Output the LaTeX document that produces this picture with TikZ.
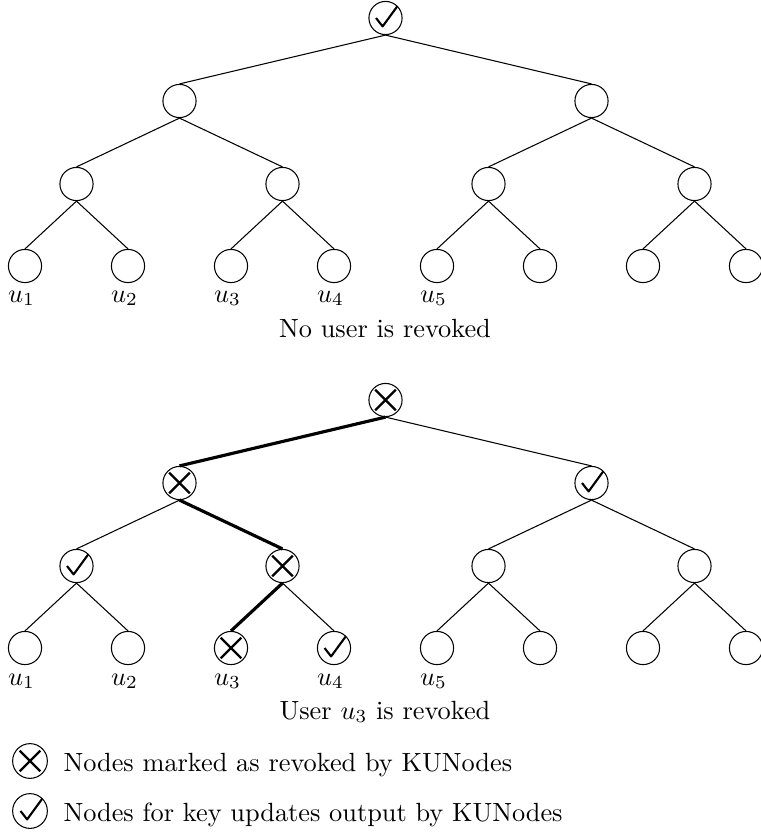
\documentclass[tikz,border=0pt]{standalone}
\begin{document}
\begin{tikzpicture}[x=0.38pt,y=-0.38pt,
  tn/.style={circle, draw, line width=0.4pt, minimum size=12.6pt, inner sep=0pt},
  xmark/.style={tn, path picture={\draw[line width=0.9pt, shift={(path picture bounding box.center)}]
      (-3.9pt,-3.9pt) -- (3.9pt,3.9pt) (-3.9pt,3.9pt) -- (3.9pt,-3.9pt);}},
  cmark/.style={tn, path picture={\draw[line width=0.8pt, line join=round, shift={(path picture bounding box.center)}]
      (-3.6pt,0pt) -- (-1.1pt,-3.2pt) -- (4.6pt,4.6pt);}},
  legicon/.style={minimum size=13.2pt},
  treeedge/.style={line width=0.4pt},
  revedge/.style={line width=1.2pt},
  ulab/.style={anchor=base, inner sep=0pt},
  captext/.style={anchor=base, inner sep=0pt},
  legtext/.style={anchor=base west, inner sep=0pt}]
\useasboundingbox (0,0) rectangle (761,833);

% ---------- top tree ----------
\node[cmark] (tA) at (385.5,18) {};
\node[tn] (tB1) at (179.5,101) {};
\node[tn] (tB2) at (591.5,101) {};
\node[tn] (tC1) at (76.5,184) {};
\node[tn] (tC2) at (282.5,184) {};
\node[tn] (tC3) at (488.5,184) {};
\node[tn] (tC4) at (694.5,184) {};
\node[tn] (tD1) at (25,266) {};
\node[tn] (tD2) at (128,266) {};
\node[tn] (tD3) at (231,266) {};
\node[tn] (tD4) at (334,266) {};
\node[tn] (tD5) at (437,266) {};
\node[tn] (tD6) at (540,266) {};
\node[tn] (tD7) at (643,266) {};
\node[tn] (tD8) at (746,266) {};

\draw[treeedge] (tA.south) -- (tB1.north);
\draw[treeedge] (tA.south) -- (tB2.north);
\draw[treeedge] (tB1.south) -- (tC1.north);
\draw[treeedge] (tB1.south) -- (tC2.north);
\draw[treeedge] (tB2.south) -- (tC3.north);
\draw[treeedge] (tB2.south) -- (tC4.north);
\draw[treeedge] (tC1.south) -- (tD1.north);
\draw[treeedge] (tC1.south) -- (tD2.north);
\draw[treeedge] (tC2.south) -- (tD3.north);
\draw[treeedge] (tC2.south) -- (tD4.north);
\draw[treeedge] (tC3.south) -- (tD5.north);
\draw[treeedge] (tC3.south) -- (tD6.north);
\draw[treeedge] (tC4.south) -- (tD7.north);
\draw[treeedge] (tC4.south) -- (tD8.north);

\node[ulab] (tu1) at (21.5,302) {$u_1$};
\node[ulab] (tu2) at (124.5,302) {$u_2$};
\node[ulab] (tu3) at (227.5,302) {$u_3$};
\node[ulab] (tu4) at (330.5,302) {$u_4$};
\node[ulab] (tu5) at (433.5,302) {$u_5$};
\node[captext] (tcap) at (385,337) {No user is revoked};

% ---------- bottom tree ----------
\node[xmark] (bA) at (385.5,400) {};
\node[xmark] (bB1) at (179.5,483) {};
\node[cmark] (bB2) at (591.5,483) {};
\node[cmark] (bC1) at (76.5,566) {};
\node[xmark] (bC2) at (282.5,566) {};
\node[tn] (bC3) at (488.5,566) {};
\node[tn] (bC4) at (694.5,566) {};
\node[tn] (bD1) at (25,648) {};
\node[tn] (bD2) at (128,648) {};
\node[xmark] (bD3) at (231,648) {};
\node[cmark] (bD4) at (334,648) {};
\node[tn] (bD5) at (437,648) {};
\node[tn] (bD6) at (540,648) {};
\node[tn] (bD7) at (643,648) {};
\node[tn] (bD8) at (746,648) {};

\draw[revedge] (bA.south) -- (bB1.north);
\draw[treeedge] (bA.south) -- (bB2.north);
\draw[treeedge] (bB1.south) -- (bC1.north);
\draw[revedge] (bB1.south) -- (bC2.north);
\draw[treeedge] (bB2.south) -- (bC3.north);
\draw[treeedge] (bB2.south) -- (bC4.north);
\draw[treeedge] (bC1.south) -- (bD1.north);
\draw[treeedge] (bC1.south) -- (bD2.north);
\draw[revedge] (bC2.south) -- (bD3.north);
\draw[treeedge] (bC2.south) -- (bD4.north);
\draw[treeedge] (bC3.south) -- (bD5.north);
\draw[treeedge] (bC3.south) -- (bD6.north);
\draw[treeedge] (bC4.south) -- (bD7.north);
\draw[treeedge] (bC4.south) -- (bD8.north);

\node[ulab] (bu1) at (21.5,685) {$u_1$};
\node[ulab] (bu2) at (124.5,685) {$u_2$};
\node[ulab] (bu3) at (227.5,685) {$u_3$};
\node[ulab] (bu4) at (330.5,685) {$u_4$};
\node[ulab] (bu5) at (433.5,685) {$u_5$};
\node[captext] (bcap) at (385,719) {User $u_3$ is revoked};

% ---------- legend ----------
\node[xmark, legicon] (lx) at (30,761) {};
\node[legtext] (lxt) at (63,771) {Nodes marked as revoked by KUNodes};
\node[cmark, legicon] (lc) at (30,811) {};
\node[legtext] (lct) at (63,821) {Nodes for key updates output by KUNodes};
\end{tikzpicture}
\end{document}
